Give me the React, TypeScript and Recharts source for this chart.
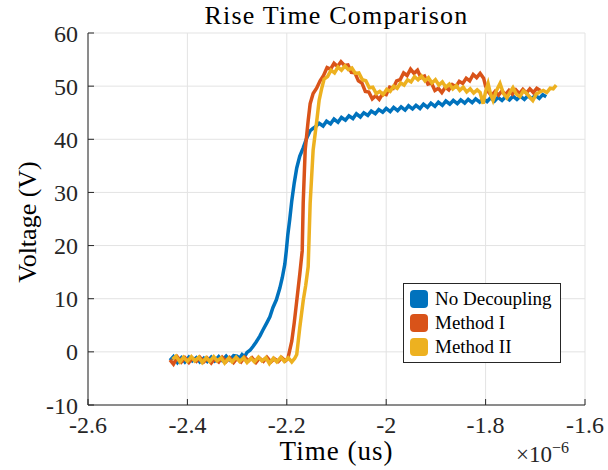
import { CartesianGrid, Legend, Line, LineChart, XAxis, YAxis } from "recharts";

// time in units of 1e-6 s, voltage in V
const timeTicks = [-2.6, -2.4, -2.2, -2.0, -1.8, -1.6];
const voltTicks = [-10, 0, 10, 20, 30, 40, 50, 60];
const seriesNames = ["No Decoupling", "Method I", "Method II"];

const noDecoupling: [number, number][] = [
  [-2.435, -1.6], [-2.428, -0.9], [-2.42, -2.0], [-2.412, -1.1], [-2.405, -1.9], [-2.397, -1.0],
  [-2.39, -1.7], [-2.382, -1.1], [-2.375, -1.9], [-2.367, -1.2], [-2.36, -1.8], [-2.352, -1.0],
  [-2.345, -1.7], [-2.337, -0.9], [-2.33, -1.6], [-2.322, -0.8], [-2.315, -1.5], [-2.307, -0.7],
  [-2.3, -0.8], [-2.295, -1.2], [-2.29, -0.5], [-2.285, -0.9], [-2.28, -0.1], [-2.274, 0.3],
  [-2.268, 1.0], [-2.262, 1.8], [-2.258, 2.4], [-2.254, 3.0], [-2.248, 4.1], [-2.24, 5.5],
  [-2.234, 6.6], [-2.228, 8.3], [-2.221, 9.8], [-2.214, 12], [-2.209, 14], [-2.204, 16.5],
  [-2.201, 19], [-2.198, 22], [-2.194, 25], [-2.19, 28.4], [-2.185, 31.8], [-2.18, 34.6],
  [-2.174, 36.8], [-2.167, 38.4], [-2.16, 40.2], [-2.153, 41.6], [-2.148, 42.0], [-2.143, 42.3],
  [-2.135, 43.0], [-2.127, 42.5], [-2.12, 43.4], [-2.112, 42.9], [-2.105, 43.8], [-2.097, 43.2],
  [-2.09, 44.1], [-2.082, 43.6], [-2.075, 44.4], [-2.067, 43.9], [-2.06, 44.8], [-2.052, 44.2],
  [-2.045, 45.0], [-2.037, 44.5], [-2.03, 45.3], [-2.022, 44.8], [-2.015, 45.6], [-2.007, 45.1],
  [-2.0, 45.8], [-1.992, 45.2], [-1.985, 46.0], [-1.977, 45.4], [-1.97, 46.1], [-1.962, 45.5],
  [-1.955, 46.3], [-1.947, 45.7], [-1.94, 46.4], [-1.932, 45.8], [-1.925, 46.6], [-1.917, 46.0],
  [-1.91, 46.8], [-1.902, 46.2], [-1.895, 47.0], [-1.887, 46.4], [-1.88, 47.2], [-1.872, 46.6],
  [-1.865, 47.3], [-1.857, 46.7], [-1.85, 47.4], [-1.842, 46.8], [-1.835, 47.5], [-1.827, 46.9],
  [-1.82, 47.6], [-1.812, 47.0], [-1.805, 47.7], [-1.797, 47.1], [-1.79, 47.8], [-1.782, 47.2],
  [-1.775, 47.9], [-1.767, 47.3], [-1.76, 48.0], [-1.752, 47.4], [-1.745, 48.1], [-1.737, 47.5],
  [-1.73, 48.1], [-1.722, 47.5], [-1.715, 48.2], [-1.707, 47.6], [-1.7, 48.3], [-1.692, 47.7],
  [-1.685, 48.4], [-1.678, 48.0],
];

const methodI: [number, number][] = [
  [-2.435, -1.5], [-2.428, -2.3], [-2.42, -1.0], [-2.412, -1.9], [-2.405, -1.1], [-2.397, -2.0],
  [-2.39, -1.2], [-2.382, -1.8], [-2.375, -1.0], [-2.367, -1.9], [-2.36, -1.2], [-2.352, -2.1],
  [-2.345, -1.3], [-2.337, -1.9], [-2.33, -1.0], [-2.322, -1.8], [-2.315, -1.1], [-2.307, -2.0],
  [-2.3, -1.2], [-2.292, -1.9], [-2.285, -1.0], [-2.277, -1.7], [-2.27, -1.1], [-2.262, -2.0],
  [-2.255, -1.2], [-2.247, -1.8], [-2.24, -1.0], [-2.232, -1.9], [-2.225, -1.3], [-2.217, -1.8],
  [-2.21, -1.1], [-2.203, -1.7], [-2.198, -1.3], [-2.19, 2.0], [-2.185, 5.5], [-2.18, 9.6],
  [-2.174, 14.5], [-2.169, 19], [-2.167, 28], [-2.163, 38], [-2.157, 43.5], [-2.153, 46.7],
  [-2.147, 48.6], [-2.14, 49.6], [-2.133, 51.0], [-2.126, 52.0], [-2.119, 53.5], [-2.112, 53.2],
  [-2.105, 54.3], [-2.098, 53.7], [-2.091, 54.6], [-2.084, 53.9], [-2.077, 54.0], [-2.07, 52.6],
  [-2.063, 52.5], [-2.056, 51.0], [-2.049, 50.6], [-2.042, 49.0], [-2.035, 48.9], [-2.028, 47.6],
  [-2.021, 48.2], [-2.014, 47.5], [-2.007, 48.6], [-2.0, 48.4], [-1.993, 49.8], [-1.986, 49.6],
  [-1.979, 51.0], [-1.972, 51.2], [-1.965, 52.5], [-1.958, 52.0], [-1.951, 53.2], [-1.944, 52.4],
  [-1.937, 53.0], [-1.93, 51.6], [-1.923, 51.9], [-1.916, 50.4], [-1.909, 50.6], [-1.902, 49.2],
  [-1.895, 49.6], [-1.888, 48.8], [-1.881, 49.8], [-1.874, 49.3], [-1.867, 50.3], [-1.86, 49.9],
  [-1.853, 50.9], [-1.846, 50.5], [-1.839, 51.5], [-1.832, 51.0], [-1.825, 52.2], [-1.818, 51.6],
  [-1.811, 52.4], [-1.804, 51.5], [-1.8, 50.0], [-1.795, 49.0], [-1.788, 48.2], [-1.781, 49.0],
  [-1.774, 48.3], [-1.767, 49.1], [-1.76, 48.4], [-1.753, 49.2], [-1.746, 48.5], [-1.739, 49.3],
  [-1.732, 48.6], [-1.725, 49.4], [-1.718, 48.7], [-1.711, 49.5], [-1.704, 48.8], [-1.697, 49.6],
  [-1.69, 49.2],
];

const methodII: [number, number][] = [
  [-2.43, -1.4], [-2.423, -0.8], [-2.415, -1.9], [-2.408, -1.0], [-2.4, -1.8], [-2.392, -0.9],
  [-2.385, -1.7], [-2.377, -1.0], [-2.37, -2.0], [-2.362, -1.1], [-2.355, -1.8], [-2.347, -0.9],
  [-2.34, -1.7], [-2.332, -1.1], [-2.325, -2.1], [-2.317, -1.2], [-2.31, -1.9], [-2.302, -1.0],
  [-2.295, -1.8], [-2.287, -1.1], [-2.28, -2.0], [-2.272, -1.2], [-2.265, -1.9], [-2.257, -1.0],
  [-2.25, -1.7], [-2.242, -1.1], [-2.235, -2.2], [-2.227, -1.2], [-2.22, -1.9], [-2.212, -1.0],
  [-2.205, -1.8], [-2.197, -1.1], [-2.19, -1.9], [-2.184, -1.2], [-2.18, -0.5], [-2.174, 4.5],
  [-2.167, 9.6], [-2.162, 12.5], [-2.157, 16], [-2.153, 28], [-2.147, 38], [-2.139, 44],
  [-2.135, 47.3], [-2.13, 49.5], [-2.125, 51.3], [-2.118, 51.8], [-2.111, 53.0], [-2.104, 52.5],
  [-2.097, 53.6], [-2.09, 53.0], [-2.083, 53.8], [-2.076, 53.1], [-2.069, 53.4], [-2.062, 52.4],
  [-2.055, 52.5], [-2.048, 51.2], [-2.041, 51.0], [-2.034, 49.7], [-2.027, 49.8], [-2.02, 48.6],
  [-2.013, 49.0], [-2.006, 48.4], [-1.999, 49.4], [-1.992, 49.0], [-1.985, 50.0], [-1.978, 49.6],
  [-1.971, 50.6], [-1.964, 50.2], [-1.957, 51.2], [-1.95, 50.8], [-1.943, 51.8], [-1.936, 51.2],
  [-1.929, 51.9], [-1.922, 51.0], [-1.915, 51.6], [-1.908, 50.6], [-1.901, 51.2], [-1.894, 50.2],
  [-1.887, 50.8], [-1.88, 49.8], [-1.873, 50.4], [-1.866, 49.5], [-1.859, 50.1], [-1.852, 49.2],
  [-1.845, 49.8], [-1.838, 48.9], [-1.831, 49.5], [-1.824, 48.7], [-1.817, 49.3], [-1.811, 48.8],
  [-1.805, 46.7], [-1.8, 49.0], [-1.795, 50.5], [-1.79, 48.5], [-1.785, 47.3], [-1.778, 49.2],
  [-1.771, 50.5], [-1.764, 48.6], [-1.757, 47.8], [-1.75, 49.0], [-1.745, 49.7], [-1.738, 48.5],
  [-1.731, 48.0], [-1.724, 49.1], [-1.717, 48.6], [-1.711, 47.9], [-1.705, 47.3], [-1.698, 48.5],
  [-1.691, 48.9], [-1.684, 49.2], [-1.677, 48.8], [-1.67, 49.6], [-1.664, 49.5], [-1.658, 50.2],
];

const toPoints = (arr: [number, number][]) => arr.map(([t, v]) => ({ t, v }));

const font = "'Liberation Serif', serif";
const axisColor = "#262626";

const renderLegend = (props: any) => {
  const items = seriesNames
    .map((n) => props.payload.find((p: any) => p.value === n))
    .filter(Boolean);
  return (
    <div
      style={{
        border: `1.5px solid ${axisColor}`,
        background: "#fff",
        padding: "3px 6px",
        fontFamily: font,
        fontSize: 19,
        color: "#000",
        lineHeight: "24px",
      }}
    >
      {items.map((p: any) => (
        <div key={p.value} style={{ display: "flex", alignItems: "center" }}>
          <span
            style={{
              display: "inline-block",
              width: 18,
              height: 18,
              borderRadius: 4,
              background: p.color,
              marginRight: 7,
            }}
          />
          {p.value}
        </div>
      ))}
    </div>
  );
};

export default function App() {
  const tickStyle = { fill: axisColor, fontSize: 24, fontFamily: font };
  return (
    <div style={{ position: "absolute", left: 0, top: 0, width: 608, height: 470, background: "#fff" }}>
      <div
        style={{
          position: "absolute", left: 88, width: 497, top: 1, textAlign: "center",
          fontFamily: font, fontSize: 26, lineHeight: "30px", letterSpacing: 1.2, color: "#000",
        }}
      >
        Rise Time Comparison
      </div>
      <LineChart width={608} height={470} data={[]} margin={{ top: 33, right: 23, bottom: 0, left: 0 }}>
        <CartesianGrid xAxisId="b" yAxisId="l" stroke="#e3e3e3" strokeWidth={1} />
        <XAxis
          xAxisId="b" type="number" dataKey="t" domain={[-2.6, -1.6]} ticks={timeTicks}
          allowDataOverflow height={65} tickSize={-6} tickMargin={17}
          tick={tickStyle} stroke={axisColor} tickFormatter={(v: number) => String(Math.round(v * 10) / 10)}
        />
        <XAxis
          xAxisId="t" orientation="top" type="number" domain={[-2.6, -1.6]} ticks={timeTicks}
          height={0} tickSize={-6} tickFormatter={() => ""} stroke={axisColor}
        />
        <YAxis
          yAxisId="l" type="number" domain={[-10, 60]} ticks={voltTicks} width={88}
          tickSize={-6} tickMargin={16} tick={tickStyle} stroke={axisColor}
        />
        <YAxis
          yAxisId="r" orientation="right" type="number" domain={[-10, 60]} ticks={voltTicks}
          width={0} tickSize={-6} tickFormatter={() => ""} stroke={axisColor}
        />
        <Legend
          layout="vertical" align="center" verticalAlign="middle"
          wrapperStyle={{ left: 403, top: 283, width: 158 }}
          content={renderLegend}
        />
        <Line
          xAxisId="b" yAxisId="l" data={toPoints(noDecoupling)} dataKey="v" name="No Decoupling"
          stroke="#0072BD" strokeWidth={3.5} dot={false} isAnimationActive={false}
        />
        <Line
          xAxisId="b" yAxisId="l" data={toPoints(methodI)} dataKey="v" name="Method I"
          stroke="#D95319" strokeWidth={3.5} dot={false} isAnimationActive={false}
        />
        <Line
          xAxisId="b" yAxisId="l" data={toPoints(methodII)} dataKey="v" name="Method II"
          stroke="#EDB120" strokeWidth={3.5} dot={false} isAnimationActive={false}
        />
      </LineChart>
      <div
        style={{
          position: "absolute", left: 88, width: 497, top: 436, textAlign: "center",
          fontFamily: font, fontSize: 27, letterSpacing: 1, color: "#000",
        }}
      >
        Time (us)
      </div>
      <div
        style={{
          position: "absolute", left: 516, top: 439, fontFamily: font, fontSize: 23, color: axisColor,
        }}
      >
        ×10<sup style={{ fontSize: 16, verticalAlign: "9px" }}>−6</sup>
      </div>
      <div
        style={{
          position: "absolute", left: 28, top: 222, transform: "translate(-50%, -50%) rotate(-90deg)",
          whiteSpace: "nowrap", fontFamily: font, fontSize: 26, color: "#000",
        }}
      >
        Voltage (V)
      </div>
    </div>
  );
}
